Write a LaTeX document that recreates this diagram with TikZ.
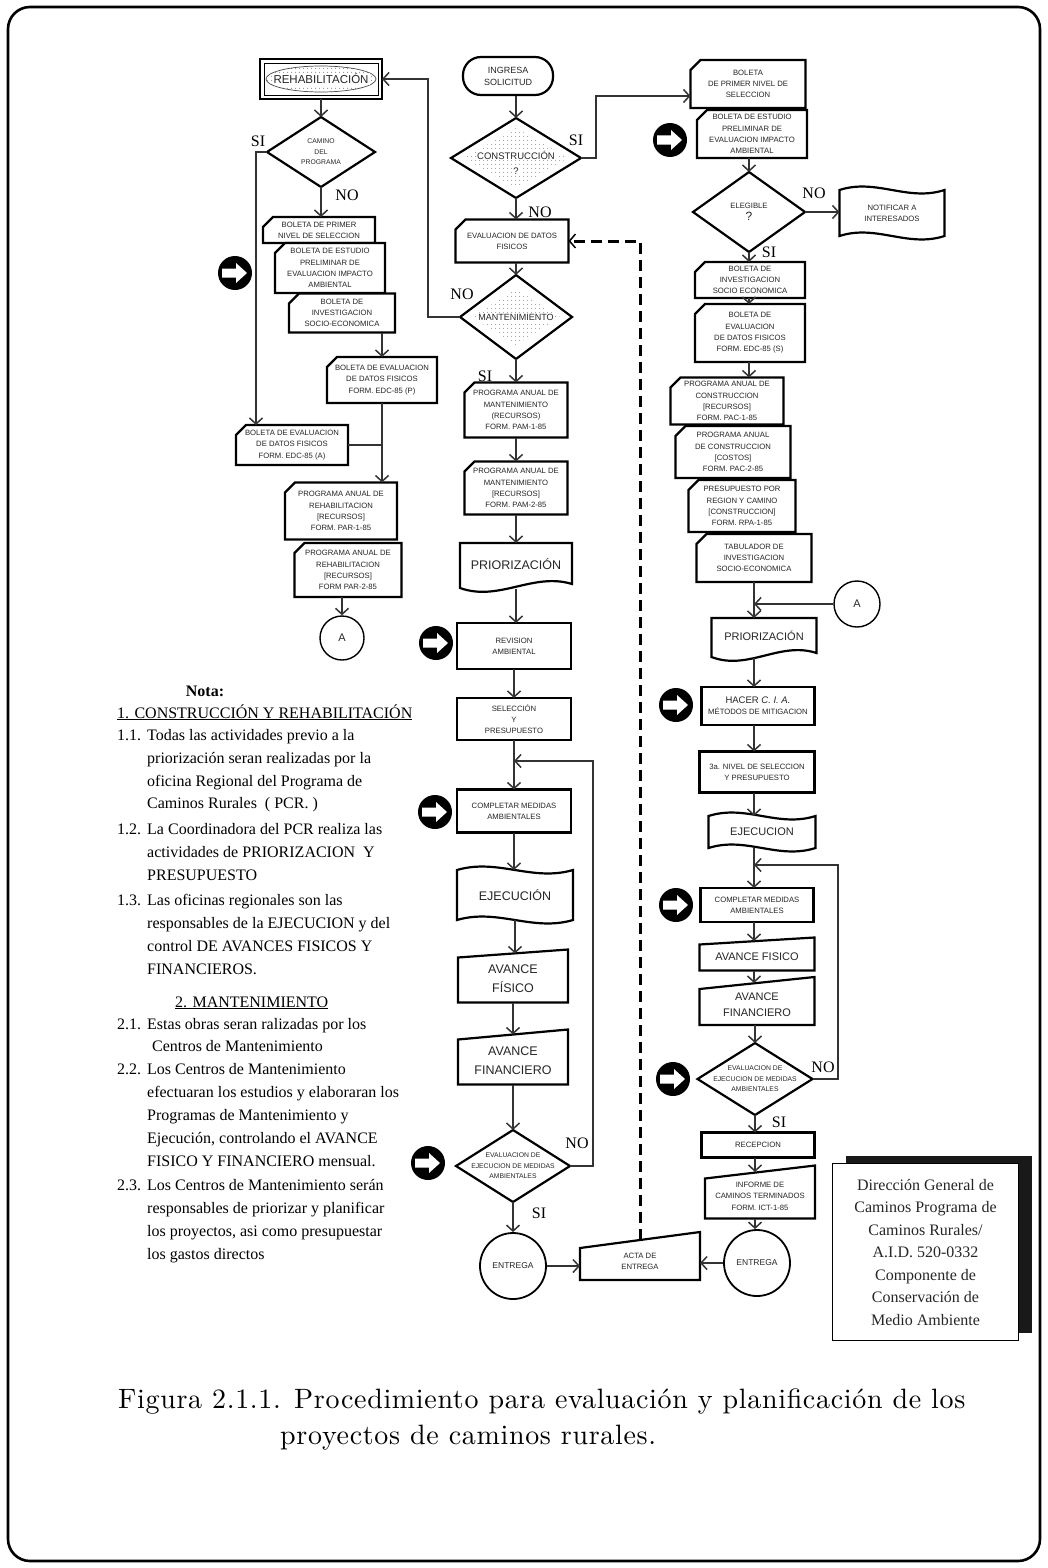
\documentclass[tikz,border=0pt]{standalone}
\usepackage{fontspec}
\usetikzlibrary{calc,arrows.meta,patterns.meta,shadows}
\newfontfamily\boxsans{Liberation Sans}
\newfontfamily\noteserif{Liberation Serif}
\newfontfamily\capfont{lmroman10-regular.otf}[LetterSpace=2.4]

\tikzset{
  conn/.style={line width=1.1pt, draw=black!80},
  arr/.style={conn, -{Straight Barb[length=6pt,width=13pt,line width=1.5pt]}},
  dasharr/.style={line width=3pt, draw=black, dash pattern=on 11pt off 6pt, -{Straight Barb[length=6pt,width=14pt,line width=1.5pt]}},
  boxline/.style={draw=black, fill=white, line width=2.2pt, line join=miter},
  btxt/.style={font=\boxsans\fontsize{7.7}{11.3}\selectfont, align=center, inner sep=0pt, text=black!85},
  stxt/.style={font=\boxsans\fontsize{6.8}{10.5}\selectfont, align=center, inner sep=0pt, text=black!85},
  bigtxt/.style={font=\boxsans\fontsize{12.5}{19}\selectfont, align=center, inner sep=0pt, text=black!85},
  mtxt/.style={font=\boxsans\fontsize{11}{16}\selectfont, align=center, inner sep=0pt, text=black!85},
  lbl/.style={font=\noteserif\fontsize{16}{16}\selectfont, inner sep=0pt},
  nt/.style={anchor=base west, font=\noteserif\fontsize{16}{16}\selectfont, inner sep=0pt},
  circ/.style={circle, draw=black, line width=1.8pt, fill=white, inner sep=0pt, font=\boxsans\fontsize{8.5}{10}\selectfont, text=black!85},
  dotfill/.style={pattern={Dots[distance=4pt,radius=0.6pt]}, pattern color=black!60},
}

% base invisible node: name, x, y, w, h
\newcommand\mkbase[5]{\path (#2,#3) node[minimum width=#4pt, minimum height=#5pt, inner sep=0pt, outer sep=0pt] (#1) {};}
% card (cut top-left corner)
\newcommand\cardbox[7][btxt]{%
  \mkbase{#2}{#3}{#4}{#5}{#6}%
  \path[boxline] ($(#2.north west)+(10,0)$) -- (#2.north east) -- (#2.south east) -- (#2.south west) -- ($(#2.north west)+(0,10)$) -- cycle;
  \node[#1] (#2-t) at (#2.center) {#7};}
% plain rectangle
\newcommand\rectbox[7][btxt]{%
  \mkbase{#2}{#3}{#4}{#5}{#6}%
  \path[boxline] (#2.north west) rectangle (#2.south east);
  \node[#1] (#2-t) at (#2.center) {#7};}
% manual input (slanted top): style, name, x, y, w, h, slant, text
\newcommand\manbox[8][btxt]{%
  \mkbase{#2}{#3}{#4}{#5}{#6}%
  \path[boxline] ($(#2.north west)+(0,#7)$) -- (#2.north east) -- (#2.south east) -- (#2.south west) -- cycle;
  \coordinate (#2-top) at ($(#2.north)+(0,#7/2)$);
  \node[#1] (#2-t) at ($(#2.center)+(0,#7/3)$) {#8};}
% document (wavy bottom)
\newcommand\docbox[7][bigtxt]{%
  \mkbase{#2}{#3}{#4}{#5}{#6}%
  \path[boxline] (#2.north west) -- (#2.north east) -- ($(#2.south east)+(0,-5)$)
     .. controls ($(#2.south east)+(-0.35*#5,-17)$) and ($(#2.south west)+(0.35*#5,13)$) .. ($(#2.south west)+(0,-1)$) -- cycle;
  \node[#1] (#2-t) at ($(#2.center)+(0,-2)$) {#7};}
% punched tape (wavy top and bottom)
\newcommand\tapebox[7][bigtxt]{%
  \mkbase{#2}{#3}{#4}{#5}{#6}%
  \path[boxline] (#2.north west) .. controls ($(#2.north west)+(0.35*#5,-12)$) and ($(#2.north east)+(-0.35*#5,12)$) .. (#2.north east)
    -- (#2.south east) .. controls ($(#2.south east)+(-0.35*#5,12)$) and ($(#2.south west)+(0.35*#5,-12)$) .. (#2.south west) -- cycle;
  \node[#1] (#2-t) at (#2.center) {#7};}
% diamond
\newcommand\diabox[7][stxt]{%
  \mkbase{#2}{#3}{#4}{#5}{#6}%
  \path[boxline] (#2.north) -- (#2.east) -- (#2.south) -- (#2.west) -- cycle;
  \node[#1] (#2-t) at (#2.center) {#7};}
% black circle with white arrow
\newcommand\blackarrow[3]{%
  \node[circle, fill=black, minimum size=34pt, inner sep=0pt] (#1) at (#2,#3) {};
  \fill[white, shift={(#1.center)}] (-13,-4.5) -- (1,-4.5) -- (1,-10) -- (12,0) -- (1,10) -- (1,4.5) -- (-13,4.5) -- cycle;}

\begin{document}
\begin{tikzpicture}[x=1pt,y=-1pt]
\useasboundingbox (0,0) rectangle (1047,1568);
\draw[line width=2.6pt, rounded corners=22pt] (8,7) rectangle (1040,1561);

% ================= LEFT COLUMN =================
\mkbase{rehab}{321}{79}{122}{40}
\draw[line width=2.6pt, fill=white] (rehab.north west) rectangle (rehab.south east);
\draw[line width=0.9pt] ($(rehab.north west)+(4,4)$) rectangle ($(rehab.south east)+(-4,-4)$);
\path[dotfill, draw=black!70, line width=0.7pt] (rehab.center) ellipse [x radius=55, y radius=13];
\node[font=\boxsans\fontsize{11.5}{12}\selectfont, fill=white, inner sep=1pt, text=black!85] (rehab-t) at (rehab.center) {REHABILITACIÓN};

\diabox{camino}{321}{152}{108}{70}{CAMINO\\DEL\\PROGRAMA}
\cardbox{lb1}{319}{230}{112}{26}{BOLETA DE PRIMER\\NIVEL DE SELECCION}
\cardbox{lb2}{330}{268}{110}{50}{BOLETA DE ESTUDIO\\PRELIMINAR DE\\EVALUACION IMPACTO\\AMBIENTAL}
\cardbox{lb3}{342}{313}{106}{39}{BOLETA DE\\INVESTIGACION\\SOCIO-ECONOMICA}
\cardbox{edcp}{382}{380}{110}{46}{BOLETA DE EVALUACION\\DE DATOS FISICOS\\FORM. EDC-85 (P)}
\cardbox{edca}{292}{445}{112}{40}{BOLETA DE EVALUACION\\DE DATOS FISICOS\\FORM. EDC-85 (A)}
\cardbox{par1}{341}{511}{112}{57}{PROGRAMA ANUAL DE\\REHABILITACION\\{}[RECURSOS]\\FORM. PAR-1-85}
\cardbox{par2}{348}{570}{107}{54}{PROGRAMA ANUAL DE\\REHABILITACION\\{}[RECURSOS]\\FORM PAR-2-85}
\node[circ, minimum size=44pt, line width=1.4pt, font=\boxsans\fontsize{11}{12}\selectfont] (aL) at (342,638) {A};
\blackarrow{bk1}{235}{273}

\draw[arr] (rehab.south) -- (camino.north);
\draw[arr] (camino.west) -| ($(edca.north west)+(20,0)$);
\draw[arr] (camino.south) -- (camino.south |- lb1.north);
\draw[arr] (edcp.north |- lb3.south) -- (edcp.north);
\draw[arr] (edcp.south) -- (edcp.south |- par1.north);
\draw[conn] (edca.east) -- (edca.east -| edcp.south);
\draw[arr] (par2.south -| aL.north) -- (aL.north);
\node[lbl] (siA) at (258,141) {SI};
\node[lbl] (noA) at (347,195) {NO};

% ================= MIDDLE COLUMN =================
\node[btxt, draw, line width=2.2pt, fill=white, rounded corners=18pt, minimum width=90pt, minimum height=38pt, font=\boxsans\fontsize{9}{12}\selectfont] (ingresa) at (508,76) {INGRESA\\SOLICITUD};

\mkbase{const}{516}{158}{130}{80}
\path[boxline] (const.north) -- (const.east) -- (const.south) -- (const.west) -- cycle;
\path[dotfill] ($(const.center)+(-52,0)$) -- ($(const.center)+(0,-30)$) -- ($(const.center)+(52,0)$) -- ($(const.center)+(0,30)$) -- cycle;
\node[font=\boxsans\fontsize{9.5}{11}\selectfont, fill=white, inner sep=1pt, text=black!85] (const-t) at ($(const.center)+(0,-3)$) {CONSTRUCCIÓN};
\node[font=\boxsans\fontsize{9.5}{11}\selectfont, fill=white, inner sep=1pt, text=black!85] (const-q) at ($(const.center)+(0,13)$) {?};

\cardbox{evdat}{512}{241}{113}{43}{EVALUACION DE DATOS\\FISICOS}

\mkbase{mant}{516}{317}{112}{84}
\path[boxline] (mant.north) -- (mant.east) -- (mant.south) -- (mant.west) -- cycle;
\path[dotfill] ($(mant.center)+(-44,0)$) -- ($(mant.center)+(0,-28)$) -- ($(mant.center)+(44,0)$) -- ($(mant.center)+(0,28)$) -- cycle;
\node[font=\boxsans\fontsize{9}{11}\selectfont, fill=white, inner sep=1pt, text=black!85] (mant-t) at (mant.center) {MANTENIMIENTO};

\cardbox{pam1}{516}{410}{103}{55}{PROGRAMA ANUAL DE\\MANTENIMIENTO\\(RECURSOS)\\FORM. PAM-1-85}
\cardbox{pam2}{516}{488}{103}{53}{PROGRAMA ANUAL DE\\MANTENIMIENTO\\{}[RECURSOS]\\FORM. PAM-2-85}
\docbox{pri1}{516}{566}{112}{46}{PRIORIZACIÓN}
\rectbox{rev}{514}{646}{114}{46}{REVISION\\AMBIENTAL}
\rectbox{sel}{514}{719}{114}{42}{SELECCIÓN\\Y\\PRESUPUESTO}
\coordinate (j1) at ($(sel.south)+(0,21)$);
\rectbox{comp1}{514}{811}{114}{43}{COMPLETAR MEDIDAS\\AMBIENTALES}
\tapebox{ejec1}{515}{895}{116}{50}{EJECUCIÓN}
\manbox[bigtxt]{avf1}{513}{976}{110}{53}{8}{AVANCE\\FÍSICO}
\manbox[bigtxt]{avn1}{513}{1057}{110}{55}{10}{AVANCE\\FINANCIERO}
\diabox{dia1}{513}{1166}{114}{72}{EVALUACION DE\\EJECUCION DE MEDIDAS\\AMBIENTALES}
\node[circ, minimum size=66pt] (ent1) at (513,1266) {ENTREGA};
\manbox{acta}{640}{1256}{120}{48}{16}{ACTA DE\\ENTREGA}

\blackarrow{bk2}{436}{643}
\blackarrow{bk3}{435}{812}
\blackarrow{bk4}{428}{1163}

\draw[arr] (ingresa.south -| const.north) -- (const.north);
\draw[arr] (const.south) -- (const.south |- evdat.north);
\draw[arr] (const.south |- evdat.south) -- (mant.north);
\draw[arr] (mant.west) -| ($(rehab.east)+(46,0)$) -- (rehab.east);
\draw[arr] (mant.south) -- (mant.south |- pam1.north);
\draw[arr] (pam1.south) -- (pam1.south |- pam2.north);
\draw[arr] (pam2.south) -- (pam2.south |- pri1.north);
\draw[arr] (pri1.south) -- (pri1.south |- rev.north);
\draw[arr] (rev.south) -- (rev.south |- sel.north);
\draw[arr] (sel.south) -- (sel.south |- comp1.north);
\draw[arr] (dia1.east) -| ($(j1)+(79,0)$) -- (j1);
\draw[arr] (comp1.south) -- (comp1.south |- ejec1.north);
\draw[arr] (ejec1.south) -- (ejec1.south |- avf1-top);
\draw[arr] (avf1.south) -- (avf1.south |- avn1-top);
\draw[arr] (avn1.south) -- (avn1.south |- dia1.north);
\draw[arr] (dia1.south) -- (dia1.south |- ent1.north);
\draw[arr] (ent1.east) -- (ent1.east -| acta.west);
\draw[dasharr] (acta-top) |- (evdat.east);

\node[lbl] (noB) at (540,212) {NO};
\node[lbl] (siB) at (576,140) {SI};
\node[lbl] (noC) at (462,294) {NO};
\node[lbl] (siC) at (485,376) {SI};
\node[lbl] (noD) at (577,1143) {NO};
\node[lbl] (siD) at (539,1213) {SI};

% ================= RIGHT COLUMN =================
\cardbox{rb1}{748}{84}{115}{48}{BOLETA\\DE PRIMER NIVEL DE\\SELECCION}
\cardbox{rb2}{752}{134}{110}{48}{BOLETA DE ESTUDIO\\PRELIMINAR DE\\EVALUACION IMPACTO\\AMBIENTAL}
\blackarrow{bk5}{670}{140}
\diabox[btxt]{eleg}{749}{212}{112}{80}{ELEGIBLE\\[1pt]{\fontsize{12}{12}\selectfont ?}}
\tapebox[btxt]{notif}{892}{213}{105}{46}{NOTIFICAR A\\INTERESADOS}
\cardbox{rb3}{750}{280}{110}{36}{BOLETA DE\\INVESTIGACION\\SOCIO ECONOMICA}
\cardbox{edcs}{750}{333}{110}{58}{BOLETA DE\\EVALUACION\\DE DATOS FISICOS\\FORM. EDC-85 (S)}
\cardbox{pac1}{727}{401}{113}{47}{PROGRAMA ANUAL DE\\CONSTRUCCION\\{}[RECURSOS]\\FORM. PAC-1-85}
\cardbox{pac2}{733}{452}{115}{52}{PROGRAMA ANUAL\\DE CONSTRUCCION\\{}[COSTOS]\\FORM. PAC-2-85}
\cardbox{rpa}{742}{506}{107}{52}{PRESUPUESTO POR\\REGION Y CAMINO\\{}[CONSTRUCCION]\\FORM. RPA-1-85}
\cardbox{tab}{754}{558}{115}{48}{TABULADOR DE\\INVESTIGACION\\SOCIO-ECONOMICA}
\node[circ, minimum size=46pt, line width=1.4pt, font=\boxsans\fontsize{11}{12}\selectfont] (aR) at (857,604) {A};
\docbox[mtxt]{pri2}{764}{638}{105}{40}{PRIORIZACIÓN}
\rectbox{hacer}{758}{706}{113}{38}{{\fontsize{9.5}{12}\selectfont HACER \textit{C. I. A.}}\\MÉTODOS DE MITIGACION}
\blackarrow{bk6}{676}{705}
\rectbox{niv3}{757}{772}{115}{41}{3a. NIVEL DE SELECCION\\Y PRESUPUESTO}
\tapebox[mtxt]{ejec2}{762}{832}{107}{32}{EJECUCION}
\coordinate (j2) at ($(ejec2.south -| tab.south)+(0,17)$);
\rectbox{comp2}{757}{905}{113}{34}{COMPLETAR MEDIDAS\\AMBIENTALES}
\blackarrow{bk7}{676}{905}
\manbox[mtxt]{avf2}{757}{954}{115}{33}{7}{AVANCE FISICO}
\manbox[mtxt]{avn2}{757}{1001}{115}{48}{12}{AVANCE\\FINANCIERO}
\diabox{dia2}{755}{1079}{115}{72}{EVALUACION DE\\EJECUCION DE MEDIDAS\\AMBIENTALES}
\blackarrow{bk8}{673}{1079}
\rectbox{rec}{758}{1145}{113}{25}{RECEPCION}
\manbox{inf}{760}{1192}{110}{53}{13}{INFORME DE\\CAMINOS TERMINADOS\\FORM. ICT-1-85}
\node[circ, minimum size=66pt] (ent2) at (757,1263) {ENTREGA};

\draw[arr] (const.east) -- ++(15,0) |- ($(rb1.west)+(0,12)$);
\draw[arr] (eleg.north |- rb2.south) -- (eleg.north);
\draw[arr] (eleg.east) -- (eleg.east -| notif.west);
\draw[arr] (eleg.south) -- (eleg.south |- rb3.north);
\draw[arr] (eleg.south |- rb3.south) -- (eleg.south |- edcs.north);
\draw[arr] (eleg.south |- edcs.south) -- (eleg.south |- pac1.north);
\draw[arr] (tab.south) -- (tab.south |- pri2.north);
\draw[arr] (aR.west) -- (aR.west -| tab.south);
\draw[arr] (tab.south |- pri2.south) -- (tab.south |- hacer.north);
\draw[arr] (hacer.south -| tab.south) -- (niv3.north -| tab.south);
\draw[arr] (niv3.south -| tab.south) -- (ejec2.north -| tab.south);
\draw[arr] (ejec2.south -| tab.south) -- (comp2.north -| tab.south);
\draw[arr] (dia2.east) -| ($(j2)+(84,0)$) -- (j2);
\draw[arr] (comp2.south -| tab.south) -- (avf2-top -| tab.south);
\draw[arr] (avf2.south -| tab.south) -- (avn2-top -| tab.south);
\draw[arr] (avn2.south -| dia2.north) -- (dia2.north);
\draw[arr] (dia2.south) -- (dia2.south |- rec.north);
\draw[arr] (dia2.south |- rec.south) -- (dia2.south |- inf-top);
\draw[arr] (dia2.south |- inf.south) -- (dia2.south |- ent2.north);
\draw[arr] (ent2.west) -- (ent2.west -| acta.east);

\node[lbl] (noE) at (814,193) {NO};
\node[lbl] (siE) at (769,252) {SI};
\node[lbl] (noF) at (823,1067) {NO};
\node[lbl] (siF) at (779,1122) {SI};

% ================= NOTES =================
\node[anchor=base, font=\noteserif\bfseries\fontsize{16}{16}\selectfont, inner sep=0pt] (nota) at (205,696) {Nota:};
\node[nt] (h1) at (117,718) {\underline{1. CONSTRUCCIÓN Y REHABILITACIÓN}};
\node[nt] (n11) at (117,740) {1.1.};
\node[nt] (l1) at (147,740) {Todas las actividades previo a la};
\node[nt] (l2) at (147,763) {priorización seran realizadas por la};
\node[nt] (l3) at (147,786) {oficina Regional del Programa de};
\node[nt] (l4) at (147,808) {Caminos Rurales \ ( PCR. )};
\node[nt] (n12) at (117,834) {1.2.};
\node[nt] (l5) at (147,834) {La Coordinadora del PCR realiza las};
\node[nt] (l6) at (147,857) {actividades de PRIORIZACION \ Y};
\node[nt] (l7) at (147,880) {PRESUPUESTO};
\node[nt] (n13) at (117,905) {1.3.};
\node[nt] (l8) at (147,905) {Las oficinas regionales son las};
\node[nt] (l9) at (147,928) {responsables de la EJECUCION y del};
\node[nt] (l10) at (147,951) {control DE AVANCES FISICOS Y};
\node[nt] (l11) at (147,974) {FINANCIEROS.};
\node[nt] (h2) at (175,1007) {\underline{2. MANTENIMIENTO}};
\node[nt] (n21) at (117,1029) {2.1.};
\node[nt] (l12) at (147,1029) {Estas obras seran ralizadas por los};
\node[nt] (l13) at (152,1051) {Centros de Mantenimiento};
\node[nt] (n22) at (117,1074) {2.2.};
\node[nt] (l14) at (147,1074) {Los Centros de Mantenimiento};
\node[nt] (l15) at (147,1097) {efectuaran los estudios y elaboraran los};
\node[nt] (l16) at (147,1120) {Programas de Mantenimiento y};
\node[nt] (l17) at (147,1143) {Ejecución, controlando el AVANCE};
\node[nt] (l18) at (147,1166) {FISICO Y FINANCIERO mensual.};
\node[nt] (n23) at (117,1190) {2.3.};
\node[nt] (l19) at (147,1190) {Los Centros de Mantenimiento serán};
\node[nt] (l20) at (147,1213) {responsables de priorizar y planificar};
\node[nt] (l21) at (147,1236) {los proyectos, asi como presupuestar};
\node[nt] (l22) at (147,1259) {los gastos directos};

% ================= INFO BOX =================
\node[draw, line width=1pt, fill=white, minimum width=186pt, minimum height=177pt, anchor=north west, align=center, inner sep=0pt,
      font=\noteserif\fontsize{16}{22.5}\selectfont, text=black!85,
      drop shadow={shadow xshift=13pt, shadow yshift=8pt, fill=black!90, opacity=1}] (dgc) at (832,1163)
  {Dirección General de\\Caminos Programa de\\Caminos Rurales/\\A.I.D. 520-0332\\Componente de\\Conservación de\\Medio Ambiente};

% ================= CAPTION =================
\node[anchor=base west, inner sep=0pt, font=\capfont\fontsize{28}{34}\selectfont] (cap1) at (118,1408) {Figura 2.1.1. Procedimiento para evaluación y planificación de los};
\node[anchor=base west, inner sep=0pt, font=\capfont\fontsize{28}{34}\selectfont] (cap2) at (280,1444) {proyectos de caminos rurales.};
\end{tikzpicture}
\end{document}
